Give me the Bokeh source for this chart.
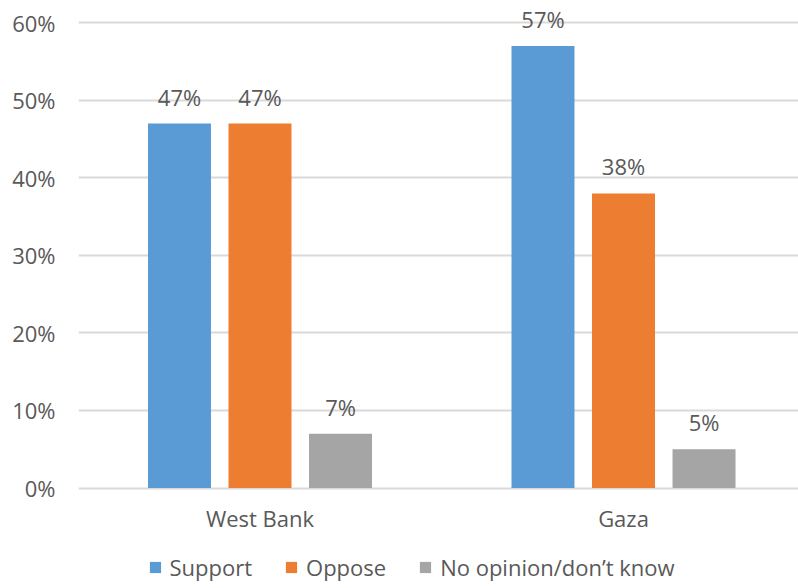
from bokeh.plotting import figure
from bokeh.models import ColumnDataSource, Range1d, FixedTicker, Legend, LegendItem
from bokeh.core.properties import value
from bokeh.embed import file_html
from bokeh.resources import INLINE

categories = ["West Bank", "Gaza"]
series_names = ["Support", "Oppose", "No opinion/don\u2019t know"]
support = [47, 57]
oppose = [47, 38]
no_opinion = [7, 5]
y_ticks = [0, 10, 20, 30, 40, 50, 60]
y_tick_labels = ["0%", "10%", "20%", "30%", "40%", "50%", "60%"]

colors = ["#5B9BD5", "#ED7D31", "#A5A5A5"]
offsets = [-0.2215, 0.0, 0.2215]
bar_w = 0.1733
FONT = "Open Sans"
TXT = "#595959"
FS = "22px"

p = figure(width=798, height=588, output_backend="svg", toolbar_location=None,
           x_range=Range1d(-0.4993, 1.4814), y_range=Range1d(-12.96, 62.88),
           min_border_left=78, min_border_right=0, min_border_top=0,
           min_border_bottom=0, tools="")
p.outline_line_color = None
p.background_fill_color = "white"
p.border_fill_color = "white"

items = []
for vals, name, col, off in zip([support, oppose, no_opinion], series_names, colors, offsets):
    src = ColumnDataSource(dict(
        x=[i + off for i in range(len(categories))],
        top=vals,
        label=[f"{v}%" for v in vals],
    ))
    r = p.vbar(x="x", top="top", width=bar_w, bottom=0, source=src,
               fill_color=col, line_color=None)
    p.text(x="x", y="top", text="label", source=src, text_align="center",
           text_baseline="alphabetic", y_offset=-27, text_color=TXT,
           text_font=value(FONT), text_font_size=FS)
    items.append(LegendItem(label=name, renderers=[r]))

# category labels under the groups
cat_src = ColumnDataSource(dict(x=list(range(len(categories))),
                                y=[0] * len(categories), text=categories))
p.text(x="x", y="y", text="text", source=cat_src, text_align="center",
       text_baseline="alphabetic", y_offset=30, text_color=TXT,
       text_font=value(FONT), text_font_size=FS)

p.xaxis.visible = False
p.yaxis.ticker = FixedTicker(ticks=y_ticks)
p.yaxis.major_label_overrides = {t: l for t, l in zip(y_ticks, y_tick_labels)}
p.yaxis.axis_line_color = None
p.yaxis.major_tick_line_color = None
p.yaxis.minor_tick_line_color = None
p.yaxis.major_tick_in = 0
p.yaxis.major_tick_out = 0
p.yaxis.major_label_text_font = FONT
p.yaxis.major_label_text_font_size = FS
p.yaxis.major_label_text_color = TXT
p.yaxis.major_label_standoff = 23

p.xgrid.grid_line_color = None
p.ygrid.grid_line_color = "#D9D9D9"
p.ygrid.grid_line_width = 2
p.ygrid.ticker = FixedTicker(ticks=y_ticks)

legend = Legend(items=items, orientation="horizontal", location=(69.5, 6),
                glyph_width=14, glyph_height=14, label_standoff=8, spacing=32,
                label_height=24, padding=0, margin=0,
                border_line_color=None, background_fill_alpha=0,
                label_text_font=FONT, label_text_font_size=FS,
                label_text_color=TXT)
p.add_layout(legend, "center")

open("out.html", "w").write(file_html(p, INLINE))
